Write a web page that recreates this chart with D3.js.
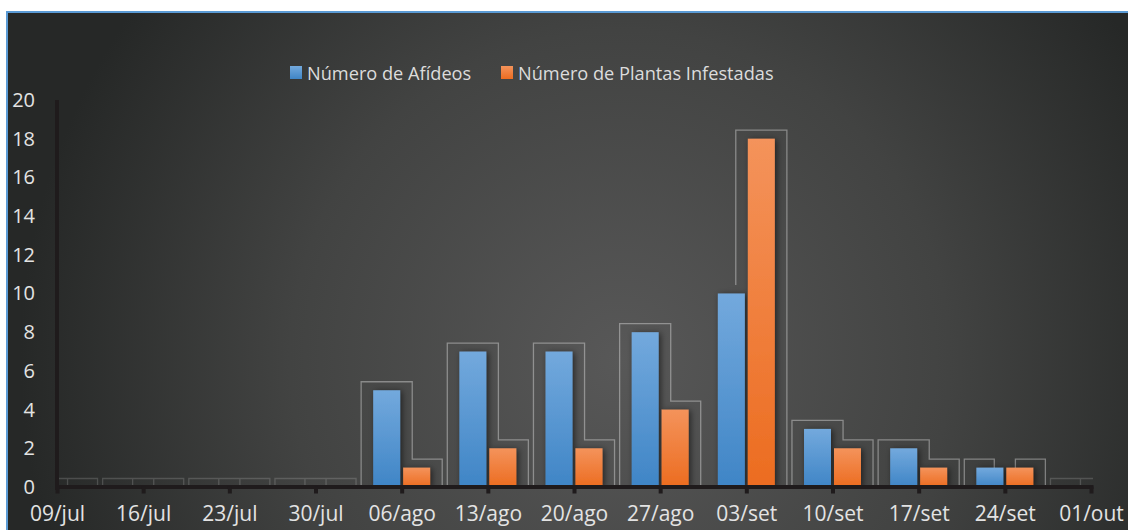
<!DOCTYPE html>
<html><head><meta charset="utf-8">
<script src="https://cdn.jsdelivr.net/npm/d3@7"></script>
<style>
html,body{margin:0;padding:0;background:#fff;overflow:hidden}
text{font-family:"Open Sans",sans-serif}
</style></head>
<body>
<svg id="chart" width="1128" height="530"></svg>
<script>
const categories = ["09/jul","16/jul","23/jul","30/jul","06/ago","13/ago","20/ago","27/ago","03/set","10/set","17/set","24/set","01/out"];
const afideos    = [0,0,0,0,5,7,7,8,10,3,2,1,0];
const plantas    = [0,0,0,0,1,2,2,4,18,2,1,1,0];
const seriesNames = ["Número de Afídeos","Número de Plantas Infestadas"];
const yTicks = [0,2,4,6,8,10,12,14,16,18,20];

const svg = d3.select("#chart");
const defs = svg.append("defs");

const bg = defs.append("radialGradient").attr("id","bg").attr("gradientUnits","userSpaceOnUse")
  .attr("cx",620).attr("cy",360).attr("r",600);
bg.append("stop").attr("offset",0).attr("stop-color","#585858");
bg.append("stop").attr("offset",0.55).attr("stop-color","#424342");
bg.append("stop").attr("offset",1).attr("stop-color","#262827");

const gBlue = defs.append("linearGradient").attr("id","gBlue").attr("x1",0).attr("y1",0).attr("x2",0).attr("y2",1);
gBlue.append("stop").attr("offset",0).attr("stop-color","#73a9dd");
gBlue.append("stop").attr("offset",1).attr("stop-color","#3f85c6");
const gOr = defs.append("linearGradient").attr("id","gOr").attr("x1",0).attr("y1",0).attr("x2",0).attr("y2",1);
gOr.append("stop").attr("offset",0).attr("stop-color","#f4935b");
gOr.append("stop").attr("offset",1).attr("stop-color","#ec6c20");

const sh = defs.append("filter").attr("id","sh").attr("x","-50%").attr("y","-20%").attr("width","200%").attr("height","140%");
sh.append("feDropShadow").attr("dx",2).attr("dy",1).attr("stdDeviation",3).attr("flood-color","#000").attr("flood-opacity",0.55);

defs.append("clipPath").attr("id","plot").append("rect").attr("x",57).attr("y",0).attr("width",1036).attr("height",488);

// frame
svg.append("rect").attr("x",7).attr("y",12).attr("width",1130).attr("height",530)
  .attr("fill","url(#bg)").attr("stroke","#5b9bd5").attr("stroke-width",2);

const x = d3.scalePoint().domain(categories).range([57,1091]).padding(0);
const y = d3.scaleLinear().domain([0,20]).range([487,100]);

const step = x.step();
const bw = step*0.313, gap = step*0.035, ext = step*0.14;
const lift = 8.5;

const data = categories.map((c,i)=>({c, a:afideos[i], p:plantas[i]}));

// outlines
const plot = svg.append("g").attr("clip-path","url(#plot)");
const base = y(0);
plot.selectAll("path.outline").data(data).join("path")
  .attr("class","outline")
  .attr("fill","none").attr("stroke","#ffffff")
  .attr("stroke-opacity",d=>(d.a===0&&d.p===0)?0.16:0.36).attr("stroke-width",1.3)
  .attr("d", d=>{
    const cx = x(d.c);
    const bl = cx-gap/2-bw-ext, br = cx-gap/2+ext;
    const ol = cx+gap/2-ext, or = cx+gap/2+bw+ext;
    const bt = y(d.a)-lift, ot = y(d.p)-lift;
    if (d.a > d.p) return `M${bl},${base}V${bt}H${br}V${ot}H${or}V${base}`;
    if (d.p > d.a) return `M${ol},${bt}V${ot}H${or}V${base}`;
    if (d.a === 0) return `M${bl},${base}V${bt}H${or}V${base}M${ol},${bt}V${base}M${br},${bt}V${base}`;
    return `M${bl},${base}V${bt}H${ol}V${base}M${br},${base}V${ot}H${or}V${base}`;
  });

// bars
const bars = plot.append("g").attr("filter","url(#sh)");
bars.selectAll("rect.a").data(data.filter(d=>d.a>0)).join("rect").attr("class","a")
  .attr("x",d=>x(d.c)-gap/2-bw).attr("width",bw)
  .attr("y",d=>y(d.a)).attr("height",d=>base-y(d.a)).attr("fill","url(#gBlue)");
bars.selectAll("rect.p").data(data.filter(d=>d.p>0)).join("rect").attr("class","p")
  .attr("x",d=>x(d.c)+gap/2).attr("width",bw)
  .attr("y",d=>y(d.p)).attr("height",d=>base-y(d.p)).attr("fill","url(#gOr)");

// axes
const axCol = "#1f1b1c";
const xa = svg.append("g").attr("transform","translate(0,486.5)")
  .call(d3.axisBottom(x).tickSize(7).tickSizeOuter(0).tickPadding(13));
xa.select(".domain").attr("stroke",axCol).attr("stroke-width",4).attr("stroke-linecap","square");
xa.selectAll(".tick line").attr("stroke",axCol).attr("stroke-width",4);
xa.selectAll(".tick text").attr("fill","#e3e3e3").style("font-size","21px").attr("font-family","Open Sans");

const ya = svg.append("g").attr("transform","translate(57,0)")
  .call(d3.axisLeft(y).tickValues(yTicks).tickSize(0).tickPadding(22));
ya.select(".domain").attr("stroke",axCol).attr("stroke-width",4).attr("d","M0,100V490");
ya.selectAll(".tick text").attr("fill","#e3e3e3").style("font-size","20px").attr("font-family","Open Sans");

// legend
const leg = svg.append("g");
const legItems = [{name:seriesNames[0], fill:"url(#gBlue)", x:290},{name:seriesNames[1], fill:"url(#gOr)", x:501}];
legItems.forEach(it=>{
  leg.append("rect").attr("x",it.x).attr("y",66).attr("width",12).attr("height",13).attr("fill",it.fill);
  leg.append("text").attr("x",it.x+17).attr("y",79.5).attr("fill","#dcdcdc").style("font-size","18.2px").text(it.name);
});
</script>
</body></html>
